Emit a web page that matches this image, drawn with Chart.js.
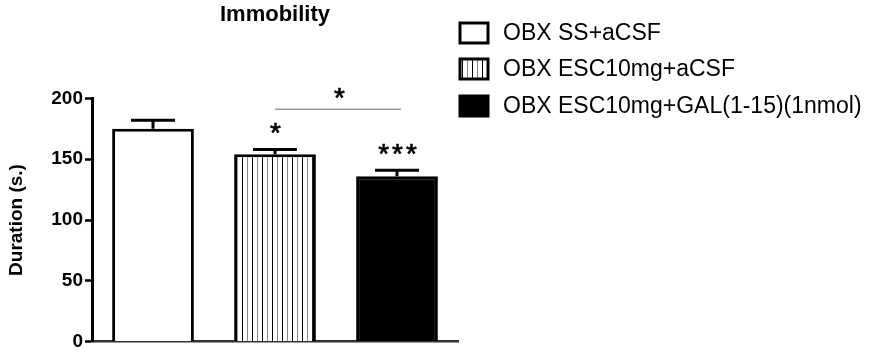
<!DOCTYPE html>
<html>
<head>
<meta charset="utf-8">
<script src="https://cdn.jsdelivr.net/npm/chart.js@4/dist/chart.umd.min.js"></script>
<style>
  html, body { margin: 0; padding: 0; background: #fff; }
  #wrap { width: 870px; height: 355px; }
</style>
</head>
<body>
<div id="wrap"><canvas id="immChart" width="870" height="355"></canvas></div>
<script>
// data
const groups = ['OBX SS+aCSF', 'OBX ESC10mg+aCSF', 'OBX ESC10mg+GAL(1-15)(1nmol)'];
const means = [175, 154, 136];
const sems = [7, 4, 5];
const sigMarks = ['', '*', '***'];
const yTicks = [0, 50, 100, 150, 200];
const bracketValue = 191;

const FONT = '"Liberation Sans", Arial, sans-serif';

// vertical stripe fill for the ESC group
function stripePattern() {
    const c = document.createElement('canvas');
    c.width = 10; c.height = 10;
    const g = c.getContext('2d');
    g.fillStyle = '#fff';
    g.fillRect(0, 0, 10, 10);
    g.fillStyle = '#000';
    g.fillRect(2, 0, 1, 10);
    g.fillStyle = '#888';
    g.fillRect(7, 0, 1, 10);
    return g.createPattern(c, 'repeat');
}
const fills = ['#ffffff', stripePattern(), '#000000'];

const errorBars = {
    id: 'errorBars',
    afterDatasetsDraw(chart) {
        const ctx = chart.ctx;
        const y = chart.scales.y;
        const meta = chart.getDatasetMeta(0);
        ctx.save();
        ctx.strokeStyle = '#000';
        ctx.lineWidth = 3;
        meta.data.forEach((bar, i) => {
            const top = y.getPixelForValue(means[i] + sems[i]);
            ctx.beginPath();
            ctx.moveTo(bar.x, bar.y);
            ctx.lineTo(bar.x, top);
            ctx.moveTo(bar.x - 22, top);
            ctx.lineTo(bar.x + 22, top);
            ctx.stroke();
        });
        // significance marks
        ctx.fillStyle = '#000';
        ctx.font = '28px ' + FONT;
        ctx.textAlign = 'center';
        ctx.textBaseline = 'alphabetic';
        ctx.letterSpacing = '3px';
        ctx.strokeStyle = '#000';
        ctx.lineWidth = 0.6;
        meta.data.forEach((bar, i) => {
            if (!sigMarks[i]) return;
            const ty = y.getPixelForValue(means[i] + sems[i]) - 7;
            ctx.fillText(sigMarks[i], bar.x + 2, ty);
            ctx.strokeText(sigMarks[i], bar.x + 2, ty);
        });
        // comparison bracket between group 2 and 3
        const by = y.getPixelForValue(bracketValue);
        const sx = (meta.data[1].x + meta.data[2].x) / 2 + 5;
        ctx.fillText('*', sx, by - 2);
        ctx.strokeText('*', sx, by - 2);
        ctx.strokeStyle = '#999';
        ctx.lineWidth = 1.5;
        ctx.beginPath();
        ctx.moveTo(meta.data[1].x, by);
        ctx.lineTo(meta.data[2].x + 4, by);
        ctx.stroke();
        ctx.restore();
    }
};

const sideLegend = {
    id: 'sideLegend',
    afterDraw(chart) {
        const ctx = chart.ctx;
        const x0 = 460, rows = [33, 69, 106];
        ctx.save();
        ctx.font = '23px ' + FONT;
        ctx.textBaseline = 'middle';
        ctx.textAlign = 'left';
        groups.forEach((label, i) => {
            const ry = rows[i];
            ctx.fillStyle = fills[i];
            ctx.fillRect(x0, ry - 10, 28, 20);
            ctx.strokeStyle = '#000';
            ctx.lineWidth = 3;
            ctx.strokeRect(x0, ry - 10, 28, 20);
            ctx.fillStyle = '#000';
            ctx.fillText(label, 503, ry + 1);
        });
        ctx.restore();
    }
};

new Chart(document.getElementById('immChart'), {
    type: 'bar',
    data: {
        labels: groups,
        datasets: [{
            data: means,
            backgroundColor: fills,
            borderColor: '#000',
            borderWidth: 3,
            barPercentage: 0.67,
            categoryPercentage: 1
        }]
    },
    options: {
        responsive: false,
        animation: false,
        layout: { padding: { left: 0, top: 0, right: 412, bottom: 12 } },
        plugins: {
            legend: { display: false },
            tooltip: { enabled: false },
            title: {
                display: true,
                text: 'Immobility',
                fullSize: false,
                color: '#000',
                font: { family: FONT, size: 22, weight: 'bold' },
                padding: { top: 2, bottom: 70 }
            }
        },
        scales: {
            x: {
                offset: true,
                ticks: { display: false },
                grid: { display: false, drawTicks: false },
                border: { display: true, color: '#333', width: 2.5 }
            },
            y: {
                min: 0,
                max: 200,
                afterFit(scale) { scale.width = 92; },
                afterBuildTicks(scale) { scale.ticks = yTicks.map(v => ({ value: v })); },
                ticks: {
                    color: '#000',
                    padding: 2,
                    font: { family: FONT, size: 19, weight: 'bold' }
                },
                grid: { drawOnChartArea: false, drawTicks: true, tickLength: 7, tickColor: '#000', tickWidth: 2.5 },
                border: { display: true, color: '#000', width: 3 },
                title: {
                    display: true,
                    text: 'Duration (s.)',
                    color: '#000',
                    padding: { top: 5, bottom: 0 },
                    font: { family: FONT, size: 19, weight: 'bold' }
                }
            }
        }
    },
    plugins: [errorBars, sideLegend]
});
</script>
</body>
</html>
